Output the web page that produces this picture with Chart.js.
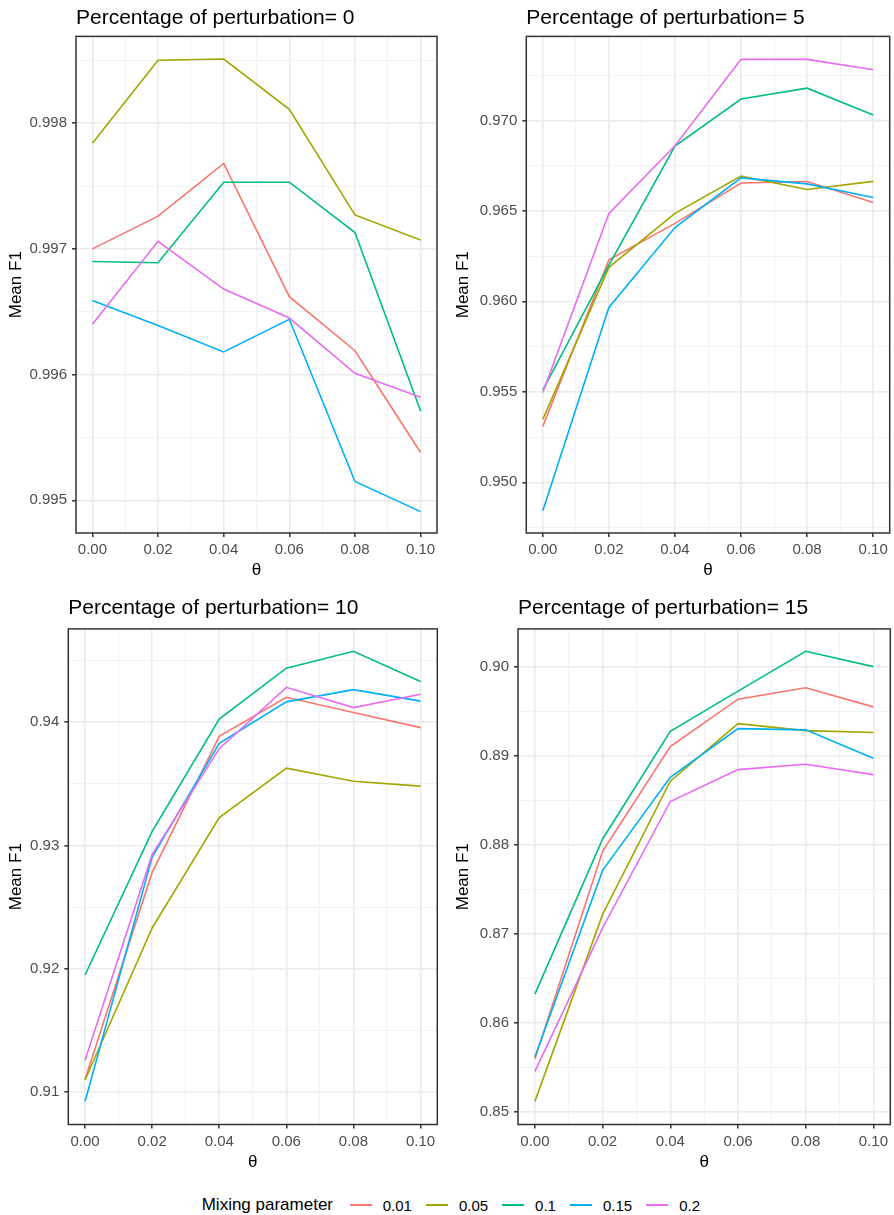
<!DOCTYPE html>
<html><head><meta charset="utf-8">
<script src="https://cdn.jsdelivr.net/npm/chart.js@4.4.1/dist/chart.umd.min.js"></script>
<style>
html,body{margin:0;padding:0;background:#fff;}
#wrap{position:relative;width:894px;height:1215px;overflow:hidden;background:#fff;font-family:"Liberation Sans",Arial,sans-serif;}
canvas{position:absolute;}
#legend{position:absolute;left:201.7px;top:1193px;height:24px;display:flex;align-items:center;white-space:nowrap;color:#000;}
#legend .ttl{font-size:17px;}
#legend .key{display:inline-block;width:22px;height:1.6px;margin-left:14px;}
#legend .key.first{margin-left:16.7px;}
#legend .lbl{font-size:15px;margin-left:11px;}
</style></head>
<body><div id="wrap">
<canvas id="c0" width="447" height="587" style="left:0;top:0"></canvas>
<canvas id="c1" width="447" height="587" style="left:447px;top:0"></canvas>
<canvas id="c2" width="447" height="591" style="left:0;top:587px"></canvas>
<canvas id="c3" width="447" height="591" style="left:447px;top:587px"></canvas>
<div id="legend"></div>
</div>
<script>
// ---- data ----
const theta = [0.00, 0.02, 0.04, 0.06, 0.08, 0.10];
const mixingParams = ['0.01', '0.05', '0.1', '0.15', '0.2'];
const perturbations = [0, 5, 10, 15];

// Percentage of perturbation = 0
const p0_m001 = [0.99700, 0.99726, 0.99768, 0.99662, 0.99619, 0.99538];
const p0_m005 = [0.99784, 0.99850, 0.99851, 0.99811, 0.99727, 0.99707];
const p0_m010 = [0.99690, 0.99689, 0.99753, 0.99753, 0.99713, 0.99571];
const p0_m015 = [0.99659, 0.99639, 0.99618, 0.99644, 0.99515, 0.99491];
const p0_m020 = [0.99640, 0.99706, 0.99668, 0.99645, 0.99601, 0.99582];

// Percentage of perturbation = 5
const p5_m001 = [0.95309, 0.96229, 0.96431, 0.96654, 0.96662, 0.96546];
const p5_m005 = [0.95348, 0.96188, 0.96486, 0.96692, 0.96618, 0.96663];
const p5_m010 = [0.95510, 0.96200, 0.96858, 0.97118, 0.97178, 0.97030];
const p5_m015 = [0.94843, 0.95966, 0.96408, 0.96682, 0.96649, 0.96574];
const p5_m020 = [0.95496, 0.96486, 0.96860, 0.97337, 0.97337, 0.97280];

// Percentage of perturbation = 10
const p10_m001 = [0.91102, 0.92781, 0.93885, 0.94202, 0.94078, 0.93956];
const p10_m005 = [0.91096, 0.92330, 0.93226, 0.93627, 0.93521, 0.93481];
const p10_m010 = [0.91948, 0.93114, 0.94025, 0.94438, 0.94575, 0.94330];
const p10_m015 = [0.90922, 0.92905, 0.93829, 0.94165, 0.94264, 0.94171];
const p10_m020 = [0.91257, 0.92927, 0.93785, 0.94283, 0.94118, 0.94227];

// Percentage of perturbation = 15
const p15_m001 = [0.85594, 0.87926, 0.89101, 0.89634, 0.89763, 0.89548];
const p15_m005 = [0.85116, 0.87216, 0.88713, 0.89359, 0.89281, 0.89260];
const p15_m010 = [0.86321, 0.88064, 0.89273, 0.89725, 0.90172, 0.90000];
const p15_m015 = [0.85615, 0.87711, 0.88756, 0.89303, 0.89290, 0.88972];
const p15_m020 = [0.85452, 0.87065, 0.88485, 0.88843, 0.88903, 0.88787];

// ticks
const xTicksMajor = [0.00, 0.02, 0.04, 0.06, 0.08, 0.10];
const xTicksMinor = [0.01, 0.03, 0.05, 0.07, 0.09];
const yTicksMajor0 = [0.995, 0.996, 0.997, 0.998];
const yTicksMinor0 = [0.9955, 0.9965, 0.9975, 0.9985];
const yTicksMajor5 = [0.950, 0.955, 0.960, 0.965, 0.970];
const yTicksMinor5 = [0.9475, 0.9525, 0.9575, 0.9625, 0.9675, 0.9725];
const yTicksMajor10 = [0.91, 0.92, 0.93, 0.94];
const yTicksMinor10 = [0.915, 0.925, 0.935, 0.945];
const yTicksMajor15 = [0.85, 0.86, 0.87, 0.88, 0.89, 0.90];
const yTicksMinor15 = [0.855, 0.865, 0.875, 0.885, 0.895];

// ---- styling / layout ----
const colors = ['#F8766D', '#A3A500', '#00BF7D', '#00B0F6', '#E76BF3'];
const FONT = '"Liberation Sans", Arial, sans-serif';

const panels = [
  {id:'c0', series:[p0_m001,p0_m005,p0_m010,p0_m015,p0_m020], yMaj:yTicksMajor0, yMin:yTicksMinor0, dec:3,
   yRange:[0.99474, 0.99869], chartL:76, padR:10, tPadT:5.3, tPadB:5.9, xH:54, xTitlePadB:6.8},
  {id:'c1', series:[p5_m001,p5_m005,p5_m010,p5_m015,p5_m020], yMaj:yTicksMajor5, yMin:yTicksMinor5, dec:3,
   yRange:[0.94720, 0.97464], chartL:79.3, padR:4.3, tPadT:5.3, tPadB:5.9, xH:54, xTitlePadB:6.8},
  {id:'c2', series:[p10_m001,p10_m005,p10_m010,p10_m015,p10_m020], yMaj:yTicksMajor10, yMin:yTicksMinor10, dec:2,
   yRange:[0.90735, 0.94757], chartL:68.3, padR:9.7, tPadT:9, tPadB:7.7, xH:53.5, xTitlePadB:5.8},
  {id:'c3', series:[p15_m001,p15_m005,p15_m010,p15_m015,p15_m020], yMaj:yTicksMajor15, yMin:yTicksMinor15, dec:2,
   yRange:[0.84856, 0.90424], chartL:71, padR:3.7, tPadT:9, tPadB:7.7, xH:53.5, xTitlePadB:5.8}
];

const isIn = (arr, v) => arr.some(a => Math.abs(a - v) < 1e-9);

const framePlugin = {
  id: 'frame',
  afterDatasetsDraw(chart) {
    const {ctx, chartArea: a} = chart;
    ctx.save();
    ctx.strokeStyle = '#333333';
    ctx.lineWidth = 1.5;
    ctx.strokeRect(a.left, a.top, a.right - a.left, a.bottom - a.top);
    ctx.restore();
  }
};

function gridOpts(major) {
  return {
    color: c => (c.tick && isIn(major, c.tick.value)) ? '#ebebeb' : '#f0f0f0',
    lineWidth: c => (c.tick && isIn(major, c.tick.value)) ? 1.6 : 0.9,
    tickColor: c => (c.tick && isIn(major, c.tick.value)) ? '#333333' : 'rgba(0,0,0,0)',
    tickWidth: 1.5,
    tickLength: 4,
    drawTicks: true
  };
}

panels.forEach((p, pi) => {
  const datasets = p.series.map((vals, i) => ({
    label: mixingParams[i],
    data: theta.map((t, k) => ({x: t, y: vals[k]})),
    borderColor: colors[i],
    backgroundColor: colors[i],
    borderWidth: 1.6,
    pointRadius: 0,
    tension: 0,
    fill: false,
    order: mixingParams.length - 1 - i
  }));
  const xAll = xTicksMajor.concat(xTicksMinor).sort((a, b) => a - b);
  const yAll = p.yMaj.concat(p.yMin).sort((a, b) => a - b);
  new Chart(document.getElementById(p.id), {
    type: 'line',
    data: {datasets},
    plugins: [framePlugin],
    options: {
      responsive: false,
      animation: false,
      devicePixelRatio: 1,
      layout: {padding: {left: 0, top: 0, bottom: 0, right: p.padR}},
      plugins: {
        legend: {display: false},
        tooltip: {enabled: false},
        title: {
          display: true,
          text: 'Percentage of perturbation= ' + perturbations[pi],
          align: 'start',
          fullSize: false,
          color: '#000',
          font: {family: FONT, size: 21, weight: 'normal'},
          padding: {top: p.tPadT, bottom: p.tPadB}
        }
      },
      scales: {
        x: {
          type: 'linear',
          min: -0.005, max: 0.105,
          afterBuildTicks: s => { s.ticks = xAll.map(v => ({value: v})); },
          afterFit: s => { s.height = p.xH; s.paddingLeft = 0; s.paddingRight = 0; },
          border: {display: false},
          grid: gridOpts(xTicksMajor),
          ticks: {
            autoSkip: false, maxRotation: 0, padding: 4,
            color: '#4d4d4d', font: {family: FONT, size: 15},
            callback: v => isIn(xTicksMajor, v) ? v.toFixed(2) : ''
          },
          title: {display: true, text: 'θ', color: '#000', font: {family: FONT, size: 17},
                  padding: {top: 0, bottom: p.xTitlePadB}}
        },
        y: {
          type: 'linear',
          min: p.yRange[0], max: p.yRange[1],
          afterBuildTicks: s => { s.ticks = yAll.map(v => ({value: v})); },
          afterFit: s => { s.width = p.chartL; s.paddingTop = 0; s.paddingBottom = 0; },
          border: {display: false},
          grid: gridOpts(p.yMaj),
          ticks: {
            autoSkip: false, padding: 5,
            color: '#4d4d4d', font: {family: FONT, size: 15},
            callback: v => isIn(p.yMaj, v) ? v.toFixed(p.dec) : ''
          },
          title: {display: true, text: 'Mean F1', color: '#000', font: {family: FONT, size: 17},
                  padding: {top: 6.5, bottom: 0}}
        }
      }
    }
  });
});

// legend
const leg = document.getElementById('legend');
const ttl = document.createElement('span');
ttl.className = 'ttl';
ttl.textContent = 'Mixing parameter';
leg.appendChild(ttl);
mixingParams.forEach((m, i) => {
  const key = document.createElement('span');
  key.className = 'key' + (i === 0 ? ' first' : '');
  key.style.background = colors[i];
  leg.appendChild(key);
  const lbl = document.createElement('span');
  lbl.className = 'lbl';
  lbl.textContent = m;
  leg.appendChild(lbl);
});
</script>
</body></html>
